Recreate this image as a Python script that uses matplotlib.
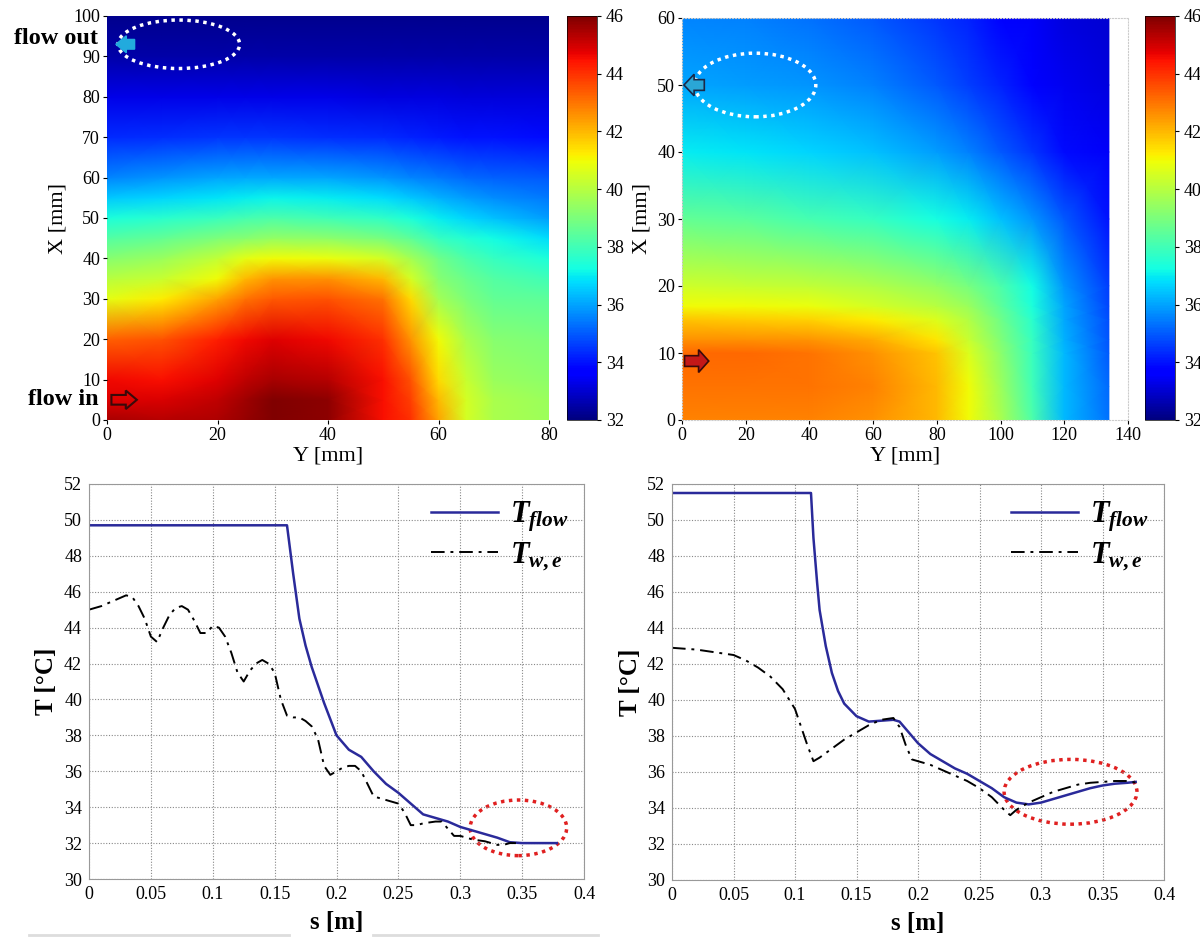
import numpy as np
import matplotlib
matplotlib.use("Agg")
import matplotlib.pyplot as plt
from matplotlib.patches import Ellipse, FancyArrow
from matplotlib.lines import Line2D

plt.rcParams['font.family'] = ['Liberation Serif', 'DejaVu Serif']
plt.rcParams['mathtext.fontset'] = 'custom'
plt.rcParams['mathtext.it'] = 'Liberation Serif:italic:bold'
plt.rcParams['mathtext.rm'] = 'Liberation Serif:bold'

# ---------------- data: left temperature map ----------------
yL = [0, 10, 20, 25, 30, 40, 50, 55, 60, 65, 70, 80]
xL = [0, 5, 10, 20, 30, 35, 40, 45, 50, 55, 60, 70, 80, 90, 100]
TL = [
    [45.5, 45.3, 45.4, 45.7, 46.0, 45.8, 44.5, 44.0, 42.3, 40.5, 39.8, 39.6],
    [44.8, 44.9, 45.2, 45.6, 46.0, 45.8, 44.5, 43.8, 42.0, 40.5, 39.8, 39.5],
    [44.6, 44.5, 44.8, 45.2, 45.5, 45.3, 44.5, 43.5, 41.5, 40.3, 39.5, 39.3],
    [43.3, 43.5, 44.3, 44.6, 44.8, 44.6, 44.0, 42.5, 41.0, 39.8, 39.2, 39.0],
    [40.8, 41.2, 42.3, 43.0, 43.4, 43.5, 43.0, 41.5, 39.7, 39.0, 38.6, 38.5],
    [40.0, 40.3, 41.0, 42.0, 42.5, 42.6, 42.0, 40.5, 39.2, 38.7, 38.3, 38.0],
    [39.2, 39.5, 40.2, 40.8, 41.0, 40.9, 40.5, 39.7, 38.8, 38.2, 37.8, 37.4],
    [38.3, 38.6, 39.0, 39.2, 39.4, 39.3, 38.9, 38.5, 37.8, 37.5, 37.2, 36.8],
    [37.4, 37.6, 37.9, 38.1, 38.2, 38.0, 37.7, 37.4, 37.0, 36.7, 36.4, 35.9],
    [36.5, 36.7, 36.9, 37.0, 37.1, 37.0, 36.8, 36.5, 36.2, 35.9, 35.7, 35.4],
    [35.6, 35.8, 36.0, 36.1, 36.1, 36.0, 35.8, 35.6, 35.4, 35.2, 35.1, 35.0],
    [34.3, 34.4, 34.5, 34.5, 34.5, 34.4, 34.3, 34.2, 34.1, 34.0, 34.0, 33.9],
    [33.3, 33.3, 33.3, 33.3, 33.3, 33.3, 33.2, 33.2, 33.2, 33.1, 33.1, 33.1],
    [32.5, 32.5, 32.5, 32.5, 32.5, 32.5, 32.5, 32.5, 32.5, 32.5, 32.5, 32.5],
    [32.2, 32.2, 32.2, 32.2, 32.2, 32.2, 32.2, 32.2, 32.2, 32.2, 32.2, 32.2],
]

# ---------------- data: right temperature map ----------------
yR = [0, 20, 40, 60, 80, 90, 100, 110, 120, 134]
xR = [0, 5, 10, 12, 15, 17, 20, 30, 40, 50, 60]
TR = [
    [42.8, 42.8, 42.8, 42.6, 42.0, 41.0, 39.8, 38.2, 36.3, 35.3],
    [43.0, 43.0, 43.0, 42.8, 42.0, 41.0, 39.6, 38.0, 36.3, 35.2],
    [43.2, 43.2, 43.0, 42.6, 41.8, 40.6, 39.3, 37.9, 36.3, 35.0],
    [42.6, 42.6, 42.5, 42.2, 41.3, 40.3, 39.1, 37.8, 36.2, 34.9],
    [41.8, 41.7, 41.6, 41.2, 40.6, 39.9, 38.8, 37.6, 36.1, 34.8],
    [41.0, 41.0, 40.9, 40.5, 40.0, 39.5, 38.5, 37.4, 36.0, 34.7],
    [40.4, 40.3, 40.2, 39.9, 39.4, 38.9, 38.2, 37.2, 35.8, 34.6],
    [38.6, 38.4, 38.1, 37.8, 37.3, 37.0, 36.4, 35.8, 35.0, 34.0],
    [37.0, 36.9, 36.7, 36.4, 35.9, 35.5, 35.0, 34.5, 33.9, 33.5],
    [36.0, 35.9, 35.8, 35.5, 35.0, 34.6, 34.2, 33.8, 33.4, 33.2],
    [35.6, 35.5, 35.3, 35.0, 34.5, 34.2, 33.8, 33.5, 33.2, 33.0],
]

cbar_ticks = [32, 34, 36, 38, 40, 42, 44, 46]

# ---------------- data: left profiles ----------------
sL_flow = [0.0, 0.16, 0.165, 0.17, 0.175, 0.18, 0.19, 0.2, 0.21, 0.22, 0.23, 0.24,
           0.25, 0.26, 0.27, 0.28, 0.29, 0.3, 0.31, 0.32, 0.33, 0.34, 0.35, 0.378]
TL_flow = [49.7, 49.7, 47.0, 44.5, 43.0, 41.8, 39.8, 38.0, 37.2, 36.8, 36.0, 35.3,
           34.8, 34.2, 33.6, 33.4, 33.2, 32.9, 32.7, 32.5, 32.3, 32.05, 32.0, 32.0]
sL_wall = [0.0, 0.01, 0.02, 0.03, 0.035, 0.04, 0.045, 0.05, 0.055, 0.06, 0.065, 0.07,
           0.075, 0.08, 0.085, 0.09, 0.095, 0.1, 0.105, 0.11, 0.115, 0.12, 0.125, 0.13,
           0.135, 0.14, 0.145, 0.15, 0.155, 0.16, 0.165, 0.17, 0.175, 0.18, 0.185, 0.19,
           0.195, 0.2, 0.205, 0.21, 0.215, 0.22, 0.225, 0.23, 0.24, 0.25, 0.255, 0.26,
           0.265, 0.27, 0.28, 0.285, 0.29, 0.295, 0.3, 0.31, 0.32, 0.33, 0.335, 0.34, 0.345]
TL_wall = [45.0, 45.2, 45.5, 45.8, 45.7, 45.2, 44.5, 43.5, 43.2, 44.0, 44.7, 45.1,
           45.2, 45.0, 44.4, 43.7, 43.7, 44.1, 44.0, 43.5, 42.6, 41.5, 41.0, 41.6,
           42.0, 42.2, 42.0, 41.5, 40.0, 39.1, 39.0, 39.0, 38.8, 38.5, 37.8, 36.3,
           35.8, 36.0, 36.2, 36.3, 36.3, 36.0, 35.3, 34.6, 34.4, 34.2, 33.7, 33.0,
           33.0, 33.1, 33.2, 33.2, 32.8, 32.4, 32.4, 32.2, 32.1, 31.9, 31.9, 32.0, 32.0]

# ---------------- data: right profiles ----------------
sR_flow = [0.0, 0.113, 0.115, 0.118, 0.12, 0.125, 0.13, 0.135, 0.14, 0.15, 0.16, 0.17,
           0.18, 0.185, 0.19, 0.2, 0.21, 0.22, 0.23, 0.24, 0.25, 0.26, 0.27, 0.28, 0.29,
           0.3, 0.31, 0.32, 0.33, 0.34, 0.35, 0.36, 0.37, 0.377]
TR_flow = [51.5, 51.5, 49.0, 46.5, 45.0, 43.0, 41.5, 40.5, 39.8, 39.1, 38.8, 38.85,
           38.9, 38.8, 38.4, 37.6, 37.0, 36.6, 36.2, 35.9, 35.5, 35.1, 34.6, 34.3, 34.2,
           34.3, 34.5, 34.7, 34.9, 35.1, 35.25, 35.35, 35.4, 35.45]
sR_wall = [0.0, 0.02, 0.04, 0.05, 0.06, 0.07, 0.08, 0.09, 0.1, 0.105, 0.11, 0.115,
           0.12, 0.13, 0.14, 0.15, 0.16, 0.17, 0.18, 0.185, 0.19, 0.195, 0.2, 0.21, 0.22,
           0.23, 0.24, 0.25, 0.26, 0.27, 0.275, 0.28, 0.29, 0.3, 0.31, 0.32, 0.33, 0.34,
           0.35, 0.36, 0.37, 0.378]
TR_wall = [42.9, 42.8, 42.6, 42.5, 42.2, 41.8, 41.3, 40.6, 39.5, 38.5, 37.5, 36.6,
           36.8, 37.3, 37.8, 38.2, 38.6, 38.9, 39.0, 38.5, 37.5, 36.7, 36.6, 36.4, 36.1,
           35.8, 35.5, 35.1, 34.6, 33.9, 33.6, 33.9, 34.3, 34.6, 34.9, 35.1, 35.3, 35.4,
           35.45, 35.5, 35.5, 35.4]

s_ticks = [0, 0.05, 0.1, 0.15, 0.2, 0.25, 0.3, 0.35, 0.4]
s_ticklabels = ['0', '0.05', '0.1', '0.15', '0.2', '0.25', '0.3', '0.35', '0.4']
T_ticks = [30, 32, 34, 36, 38, 40, 42, 44, 46, 48, 50, 52]

# ---------------- figure ----------------
fig = plt.figure(figsize=(12, 9.39), dpi=100)
W, H = 1200, 939


def ax_px(l, t, r, b):
    return fig.add_axes([l / W, 1 - b / H, (r - l) / W, (b - t) / H])


TICK = 13
cmap = plt.get_cmap('jet')

# ---- top-left map ----
ax1 = ax_px(107, 16, 549, 420)
m1 = ax1.pcolormesh(yL, xL, np.array(TL), cmap=cmap, vmin=32, vmax=46, shading='gouraud')
ax1.set_xlim(0, 80)
ax1.set_ylim(0, 100)
ax1.set_xticks([0, 20, 40, 60, 80])
ax1.set_yticks(range(0, 101, 10))
ax1.tick_params(labelsize=TICK, length=3, direction='out', pad=2)
ax1.set_xlabel('Y [mm]', fontsize=16, labelpad=2)
ax1.set_ylabel('X [mm]', fontsize=16, labelpad=4)
for sp in ax1.spines.values():
    sp.set_visible(False)
ax1.add_patch(Ellipse((13, 93), 22, 12, fill=False, ec='white', lw=2.5, ls=(0, (1, 1.3))))
ax1.add_patch(FancyArrow(5, 93, -3.4, 0, width=2.4, head_width=4.2, head_length=1.9,
                         length_includes_head=True, fc='#22aadd', ec='#22aadd', lw=1, clip_on=False))
ax1.add_patch(FancyArrow(0.8, 5, 4.6, 0, width=2.4, head_width=4.6, head_length=2.0,
                         length_includes_head=True, fc='none', ec='#3a0a0a', lw=1.5, clip_on=False))
ax1.text(-1.6, 94.5, 'flow out', ha='right', va='center', fontsize=17.5, fontweight='bold')
ax1.text(-1.6, 5.0, 'flow in', ha='right', va='center', fontsize=17.5, fontweight='bold')

cax1 = ax_px(567, 16, 597, 420)
cb1 = fig.colorbar(m1, cax=cax1, ticks=cbar_ticks)
cb1.ax.tick_params(labelsize=TICK, length=3)
cb1.outline.set_linewidth(0.5)

# ---- top-right map ----
ax2 = ax_px(682, 18, 1128, 420)
m2 = ax2.pcolormesh(yR, xR, np.array(TR), cmap=cmap, vmin=32, vmax=46, shading='gouraud')
ax2.set_xlim(0, 140)
ax2.set_ylim(0, 60)
ax2.set_xticks(range(0, 141, 20))
ax2.set_yticks(range(0, 61, 10))
ax2.tick_params(labelsize=TICK, length=3, direction='out', pad=2)
ax2.set_xlabel('Y [mm]', fontsize=16, labelpad=2)
ax2.set_ylabel('X [mm]', fontsize=16, labelpad=4)
for sp in ax2.spines.values():
    sp.set_color('#cccccc')
    sp.set_linestyle(':')
ax2.add_patch(Ellipse((23, 50), 38, 9.5, fill=False, ec='white', lw=2.5, ls=(0, (1, 1.3))))
ax2.add_patch(FancyArrow(7, 50, -6.4, 0, width=1.6, head_width=3.2, head_length=3.2,
                         length_includes_head=True, fc='#2aa6d6', ec='#1a2a4a', lw=1.2, clip_on=False))
ax2.add_patch(FancyArrow(0.8, 8.8, 7.6, 0, width=1.6, head_width=3.4, head_length=3.2,
                         length_includes_head=True, fc='#c41818', ec='#3a0a0a', lw=1.2, clip_on=False))

cax2 = ax_px(1145, 16, 1175, 420)
cb2 = fig.colorbar(m2, cax=cax2, ticks=cbar_ticks)
cb2.ax.tick_params(labelsize=TICK, length=3)
cb2.outline.set_linewidth(0.5)

# ---- bottom profiles ----
flow_col = '#2a2a9a'


def profile(ax, sf, tf, sw, tw, ell):
    ax.plot(sf, tf, color=flow_col, lw=1.8, label=r'$T_{flow}$')
    ax.plot(sw, tw, color='black', lw=1.4, ls=(0, (7, 3, 1.5, 3)), label=r'$T_{w,e}$')
    ax.set_xlim(0, 0.4)
    ax.set_ylim(30, 52)
    ax.set_xticks(s_ticks)
    ax.set_xticklabels(s_ticklabels)
    ax.set_yticks(T_ticks)
    ax.tick_params(labelsize=TICK, length=0, pad=5)
    ax.grid(True, color='#888888', ls=(0, (1, 1.5)), lw=0.8)
    for sp in ax.spines.values():
        sp.set_color('#999999')
    ax.set_xlabel('s [m]', fontsize=18, fontweight='bold', labelpad=6)
    ax.set_ylabel('T [°C]', fontsize=18, fontweight='bold', labelpad=4)
    ax.add_patch(Ellipse(ell[0], ell[1], ell[2], fill=False, ec='#e02020', lw=2.5,
                         ls=(0, (1, 1.3))))
    leg = ax.legend(loc='upper right', frameon=False, fontsize=22, handlelength=2.2,
                    handletextpad=0.4, labelspacing=0.2, borderaxespad=0.1)
    return leg


ax3 = ax_px(89, 484, 584, 879)
profile(ax3, sL_flow, TL_flow, sL_wall, TL_wall, ((0.347, 32.85), 0.078, 3.1))

ax4 = ax_px(672, 484, 1164, 880)
profile(ax4, sR_flow, TR_flow, sR_wall, TR_wall, ((0.324, 34.9), 0.108, 3.6))

# faint separator lines at bottom
fig.add_artist(Line2D([29 / W, 289 / W], [1 - 935 / H] * 2, color='#dddddd', lw=2))
fig.add_artist(Line2D([373 / W, 598 / W], [1 - 935 / H] * 2, color='#dddddd', lw=2))

fig.savefig('out.png', dpi=100)
